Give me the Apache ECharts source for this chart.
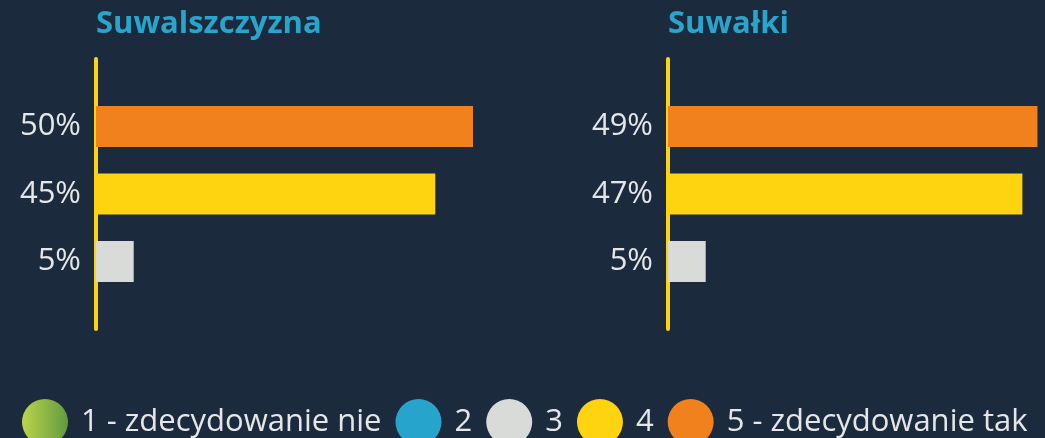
<!DOCTYPE html>
<html>
<head>
<meta charset="utf-8">
<script src="https://cdn.jsdelivr.net/npm/echarts@6/dist/echarts.min.js"></script>
<style>
html,body{margin:0;padding:0;background:#1c2a3e;}
#chart{width:1045px;height:438px;}
</style>
</head>
<body>
<div id="chart"></div>
<script>
// ---- data ----
const levels = ['1 - zdecydowanie nie', '2', '3', '4', '5 - zdecydowanie tak'];
const panelTitles = ['Suwalszczyzna', 'Suwałki'];
const suwalszczyznaValues = [0, 0, 5, 45, 50];   // per level, percent
const suwalkiValues = [0, 0, 5, 47, 49];         // per level, percent
// category slots top -> bottom (padding slots at both ends)
const categories = ['padTop', '5 - zdecydowanie tak', '4', '3', 'padBottom'];
const suwalszczyznaTicks = ['', '50%', '45%', '5%', ''];
const suwalkiTicks = ['', '49%', '47%', '5%', ''];

const colors = [
  new echarts.graphic.LinearGradient(0, 0, 1, 0, [
    {offset: 0, color: '#bcd44c'}, {offset: 1, color: '#629a3f'}
  ]),
  '#27a4cb', '#d9dbd9', '#fed30f', '#f0811d'
];

const panelValues = [suwalszczyznaValues, suwalkiValues];
const panelTicks = [suwalszczyznaTicks, suwalkiTicks];
const gridLefts = [96, 668];
const font = '"Open Sans", Roboto, sans-serif';

const grids = [], xAxes = [], yAxes = [], series = [], titles = [];
panelValues.forEach((vals, p) => {
  grids.push({left: gridLefts[p], top: 59, width: 377, height: 270, containLabel: false});
  xAxes.push({type: 'value', gridIndex: p, min: 0, max: 50, show: false});
  const ticks = panelTicks[p];
  yAxes.push({
    type: 'category', gridIndex: p, data: categories, inverse: true, boundaryGap: false,
    axisLine: {show: true, lineStyle: {color: '#fed30f', width: 4}},
    axisTick: {show: false},
    splitLine: {show: false},
    axisLabel: {
      color: '#e4e6e8', fontSize: 31, fontFamily: font, margin: 15,
      interval: 0,
      formatter: (v, i) => ticks[i]
    }
  });
  titles.push({
    text: panelTitles[p], left: gridLefts[p] - 5, top: 4,
    textStyle: {color: '#29a5cc', fontSize: 31, fontWeight: 'bold', fontFamily: font}
  });
  levels.forEach((lv, i) => {
    series.push({
      name: lv, type: 'bar', xAxisIndex: p, yAxisIndex: p,
      barWidth: 41, barGap: '-100%',
      itemStyle: {color: colors[i]},
      data: categories.map(c => (c === lv && vals[i] > 0) ? vals[i] : '-'),
      silent: true
    });
  });
});

const chart = echarts.init(document.getElementById('chart'), null, {renderer: 'canvas'});
chart.setOption({
  backgroundColor: '#1c2a3e',
  animation: false,
  title: titles,
  grid: grids,
  xAxis: xAxes,
  yAxis: yAxes,
  legend: {
    data: levels.map((lv, i) => ({name: lv, itemStyle: {color: colors[i]}})),
    left: 17, top: 394,
    icon: 'circle', itemWidth: 46, itemHeight: 46, itemGap: 14,
    textStyle: {color: '#e4e6e8', fontSize: 31, fontFamily: font, padding: [0, 0, 0, 8]}
  },
  series: series
});
</script>
</body>
</html>
